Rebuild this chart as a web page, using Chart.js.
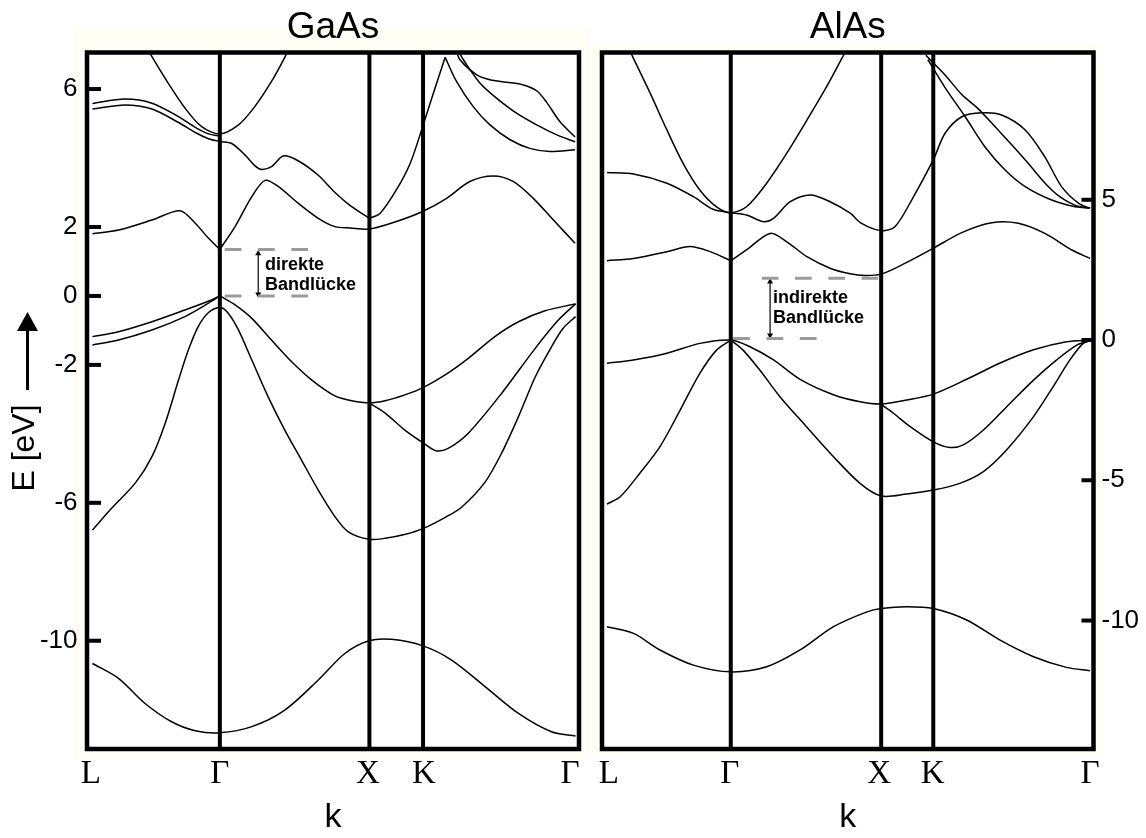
<!DOCTYPE html>
<html>
<head>
<meta charset="utf-8">
<script src="https://cdn.jsdelivr.net/npm/chart.js@4.4.0/dist/chart.umd.min.js"></script>
<style>
  body { margin: 0; background: #fff; }
  #page { position: relative; width: 1146px; height: 838px; overflow: hidden; }
  .cream { position: absolute; background: #fffef5; }
  canvas { position: absolute; top: 0; }
</style>
</head>
<body>
<div id="page">
  <div class="cream" style="left:73px;top:28px;width:517px;height:732px"></div>
  <div class="cream" style="left:592px;top:43px;width:508px;height:712px"></div>
  <canvas id="gaas" width="590" height="838" style="left:0"></canvas>
  <canvas id="alas" width="556" height="838" style="left:590px"></canvas>
</div>
<script>
// k runs along the path L - Γ - X - K - Γ, in percent of the panel width; E in eV
const kLabels = ["L", "Γ", "X", "K", "Γ"];

// ---------- GaAs ----------
const gaasTickPos = [0.8, 27.0, 57.1, 68.5, 98.2];
const gaasSymPoints = [27.0, 57.4, 68.3];
const gaasEnergyTicks = [6, 2, 0, -2, -6, -10];
const gaasRange = [-13.14, 7.06];

const gaasS = [[1.1,-10.66],[6.4,-11.09],[11.8,-11.82],[17.2,-12.35],[22.0,-12.61],[27.0,-12.67],[33.5,-12.49],[40.2,-12.01],[47.0,-11.14],[52.4,-10.37],[57.3,-10.0],[61.9,-9.96],[68.3,-10.15],[74.1,-10.56],[80.9,-11.33],[87.7,-12.11],[94.4,-12.64],[99.3,-12.76]];
const gaasV1 = [[1.1,-6.79],[5.0,-6.16],[9.8,-5.43],[13.2,-4.66],[15.9,-3.69],[18.6,-2.44],[20.6,-1.57],[22.6,-0.89],[24.7,-0.48],[27.0,-0.33],[28.7,-0.50],[30.8,-0.99],[33.5,-1.86],[36.8,-2.92],[40.2,-3.89],[43.6,-4.76],[47.0,-5.63],[50.4,-6.40],[53.1,-6.84],[57.4,-7.06],[60.6,-7.03],[64.5,-6.92],[68.4,-6.74],[73.1,-6.40],[76.2,-6.12],[80.9,-5.40],[84.3,-4.55],[87.7,-3.50],[91.1,-2.35],[94.4,-1.48],[96.7,-0.95],[99.3,-0.60]];
const gaasV2L = [[1.1,-1.18],[6.4,-1.04],[13.2,-0.75],[19.9,-0.41],[25.3,-0.12],[27.0,0]];
const gaasV2R = [[27.0,0],[30.1,-0.26],[33.5,-0.65],[37.5,-1.28],[41.6,-1.91],[45.7,-2.44],[50.4,-2.90],[53.8,-3.04],[57.4,-3.10],[60.6,-3.04],[64.6,-2.87],[68.4,-2.65],[72.8,-2.29],[77.5,-1.81],[82.9,-1.18],[87.7,-0.75],[93.1,-0.43],[99.3,-0.23]];
const gaasV3L = [[1.1,-1.42],[6.4,-1.28],[13.2,-0.99],[19.9,-0.60],[24.7,-0.21],[27.0,0]];
const gaasV3R = [[57.4,-3.11],[60.6,-3.40],[64.6,-3.89],[68.4,-4.27],[70.9,-4.49],[73.4,-4.42],[77.5,-3.98],[84.3,-2.82],[91.1,-1.52],[95.8,-0.70],[99.3,-0.23]];
const gaasC1L = [[1.1,1.80],[6.4,1.91],[13.2,2.20],[18.9,2.47],[22.0,2.11],[24.7,1.67],[27.0,1.35]];
const gaasC1R = [[27.0,1.35],[30.1,2.01],[33.5,2.88],[36.2,3.35],[38.9,3.17],[42.9,2.69],[47.0,2.25],[50.4,2.01],[53.5,1.97],[57.4,1.94],[62.9,2.16],[68.2,2.45],[73.1,2.83],[77.8,3.32],[82.6,3.48],[86.6,3.32],[90.7,2.83],[94.8,2.20],[99.2,1.53]];
const gaasC2 = [[1.1,5.58],[7.7,5.71],[13.2,5.59],[18.6,5.20],[22.0,4.89],[24.7,4.70],[27.0,4.64]];
const gaasC3a = [[1.1,5.42],[7.7,5.54],[13.2,5.42],[18.6,5.03],[22.0,4.74],[24.7,4.56],[27.0,4.48],[29.4,4.42],[32.1,4.09],[34.1,3.78],[35.5,3.67],[37.5,3.75],[39.9,4.06],[42.9,3.92],[47.0,3.50],[50.4,3.00],[53.5,2.62],[57.4,2.25]];
const gaasC3b = [[57.4,2.25],[59.6,2.40],[62.9,3.08],[65.7,3.85],[68.2,4.90],[70.4,5.88],[72.8,6.92]];
const gaasC3c = [[72.8,6.92],[75.1,6.22],[78.5,5.49],[81.9,4.96],[86.0,4.53],[90.0,4.28],[94.1,4.19],[99.2,4.24]];
const gaasC4 = [[12.2,7.2],[13.2,6.94],[16.5,6.17],[19.9,5.45],[23.3,4.91],[27.0,4.70],[30.8,4.96],[34.1,5.49],[37.5,6.22],[40.2,6.92],[41.1,7.2]];
const gaasC5 = [[75.0,7.15],[75.8,6.85],[79.2,6.41],[81.9,6.27],[85.3,6.20],[88.7,6.12],[91.4,5.95],[93.4,5.62],[96.1,5.06],[99.2,4.61]];
const gaasC6 = [[75.3,7.15],[76.5,6.85],[79.9,6.17],[83.3,5.73],[87.3,5.30],[91.4,4.96],[95.5,4.67],[99.2,4.47]];

// ---------- AlAs ----------
const alasTickPos = [1.4, 26.0, 56.4, 67.3, 99.3];
const alasSymPoints = [26.2, 56.8, 67.4];
const alasEnergyTicks = [5, 0, -5, -10];
const alasRange = [-14.58, 10.25];

const alasS = [[1.0,-10.22],[6.4,-10.46],[11.8,-11.05],[18.6,-11.59],[26.2,-11.83],[33.5,-11.65],[40.3,-11.05],[47.1,-10.22],[53.9,-9.69],[56.8,-9.57],[62.0,-9.51],[67.4,-9.57],[74.2,-9.98],[81.0,-10.70],[87.8,-11.29],[94.5,-11.67],[99.3,-11.79]];
const alasV1L = [[1.0,-5.85],[3.7,-5.59],[7.7,-4.75],[11.8,-3.80],[15.9,-2.50],[19.9,-1.19],[23.3,-0.36],[26.2,0]];
const alasV1R = [[26.2,0],[28.7,-0.36],[32.1,-1.07],[36.2,-2.02],[41.6,-3.09],[47.1,-4.16],[52.5,-5.11],[56.8,-5.56],[62.0,-5.49],[67.4,-5.35],[72.8,-5.11],[77.6,-4.69],[82.3,-3.92],[87.8,-2.73],[91.8,-1.66],[95.2,-0.71],[97.9,-0.12],[99.6,0]];
const alasV2 = [[1.0,-0.83],[6.4,-0.71],[13.2,-0.47],[19.9,-0.12],[26.2,0],[30.1,-0.24],[34.9,-0.71],[40.3,-1.40],[47.1,-1.95],[52.5,-2.20],[56.8,-2.28],[62.0,-2.14],[67.4,-1.93],[74.2,-1.40],[81.0,-0.82],[87.8,-0.35],[94.5,-0.06],[99.6,0]];
const alasV3 = [[56.8,-2.30],[59.3,-2.61],[62.7,-3.09],[67.4,-3.63],[70.8,-3.83],[73.5,-3.74],[77.6,-3.21],[83.0,-2.26],[87.8,-1.43],[92.5,-0.71],[96.6,-0.18],[99.6,0]];
const alasC1L = [[1.0,2.83],[6.4,2.91],[13.2,3.15],[17.9,3.33],[22.0,3.15],[26.2,2.83]];
const alasC1R = [[26.2,2.83],[29.4,3.21],[34.2,3.80],[37.6,3.50],[41.7,2.97],[46.4,2.56],[50.5,2.36],[53.5,2.30],[56.8,2.35],[61.6,2.73],[67.4,3.27],[73.2,3.83],[79.3,4.18],[84.7,4.16],[90.1,3.80],[95.6,3.21],[99.3,2.91]];
const alasC2 = [[1.0,5.97],[6.4,5.92],[13.2,5.59],[18.6,5.11],[22.6,4.66],[26.2,4.54],[29.4,4.46],[32.8,4.22],[34.9,4.34],[38.3,4.93],[42.4,5.17],[46.4,4.93],[50.5,4.52],[52.8,4.16],[56.8,3.90],[59.6,4.04],[63.0,4.99],[67.4,6.42],[69.8,7.37],[73.2,7.96],[77.3,8.10],[81.3,8.02],[86.1,7.49],[90.1,6.53],[93.5,5.47],[97.0,4.87],[99.3,4.70]];
const alasC3 = [[5.7,10.3],[6.4,10.04],[9.8,8.80],[13.2,7.49],[16.5,6.30],[19.9,5.35],[23.3,4.75],[26.2,4.54],[29.4,4.75],[33.5,5.59],[37.6,6.66],[41.7,7.84],[45.7,9.03],[48.8,10.04],[49.6,10.3]];
const alasC4 = [[65.9,10.15],[69.8,9.45],[73.2,8.75],[76.5,8.25],[80.0,7.6],[83.4,6.95],[86.7,6.3],[90.1,5.6],[93.2,5.1],[96.3,4.8],[99.3,4.7]];
const alasC5 = [[66.3,10.0],[69.8,9.0],[73.9,7.96],[77.9,6.89],[82.0,6.06],[86.1,5.47],[91.5,4.99],[96.3,4.75],[99.3,4.70]];

// band gap markers: dashed levels, double arrow, label
const gaasGap = { topE: 1.35, topK: [28.0, 45.0], botE: 0, botK: [28.0, 45.0], arrowK: 34.8, arrowE: [1.23, 0.05],
                  noteK: 36.2, noteE: [0.75, 0.17], note: ["direkte", "Bandlücke"] };
const alasGap = { topE: 2.2, topK: [32.5, 56.2], botE: 0.05, botK: [26.7, 43.7], arrowK: 34.2, arrowE: [2.08, 0.17],
                  noteK: 34.8, noteE: [1.32, 0.59], note: ["indirekte", "Bandlücke"] };

const SANS = "'Liberation Sans', Arial, sans-serif";
const SERIF = "'Liberation Serif', 'Times New Roman', serif";

function bandSet(points) {
  return { data: points, borderColor: "#000", borderWidth: 1.5, pointRadius: 0, fill: false, tension: 0.3 };
}

function plainSet(points, extra) {
  return Object.assign({ data: points, borderColor: "#000", pointRadius: 0, fill: false, tension: 0 }, extra);
}

function buildDatasets(bands, sym, range, gap) {
  const sets = bands.map(bandSet);
  sym.forEach(k => sets.push(plainSet([[k, range[0] - 1], [k, range[1] + 1]], { borderWidth: 4 })));
  const dash = { borderColor: "#9b9b9b", borderWidth: 3, borderDash: [16.7, 16.6] };
  sets.push(plainSet([[gap.topK[0], gap.topE], [gap.topK[1], gap.topE]], dash));
  sets.push(plainSet([[gap.botK[0], gap.botE], [gap.botK[1], gap.botE]], dash));
  sets.push(plainSet([[gap.arrowK, gap.arrowE[0]], [gap.arrowK, gap.arrowE[1]]], {
    borderWidth: 1.2, pointRadius: 3.5, pointStyle: "triangle", pointRotation: [0, 180],
    pointBackgroundColor: "#000", pointBorderWidth: 0
  }));
  return sets;
}

function framePlugin(name, ticks, side, gap) {
  return {
    id: "frame_" + name,
    beforeDraw(chart) {
      const { ctx, chartArea: a } = chart;
      ctx.save();
      ctx.fillStyle = "#fff";
      ctx.fillRect(a.left, a.top, a.right - a.left, a.bottom - a.top);
      ctx.restore();
    },
    afterDatasetsDraw(chart) {
      const { ctx, chartArea: a, scales } = chart;
      ctx.save();
      ctx.strokeStyle = "#000";
      ctx.lineWidth = 4.5;
      ctx.strokeRect(a.left, a.top, a.right - a.left, a.bottom - a.top);
      ctx.fillStyle = "#000";
      ticks.forEach(v => {
        const y = scales.y.getPixelForValue(v);
        if (side === "left") ctx.fillRect(a.left, y - 2, 14, 4);
        else ctx.fillRect(a.right - 12, y - 2, 12, 4);
      });
      ctx.font = "bold 18px " + SANS;
      ctx.textAlign = "left";
      ctx.textBaseline = "alphabetic";
      gap.note.forEach((t, i) => {
        ctx.fillText(t, scales.x.getPixelForValue(gap.noteK), scales.y.getPixelForValue(gap.noteE[i]));
      });
      ctx.restore();
    }
  };
}

// rotated "E [eV]" with the upward arrow next to the GaAs panel
const energyTitle = {
  id: "energyTitle",
  afterDraw(chart) {
    const ctx = chart.ctx;
    ctx.save();
    ctx.translate(25, 448);
    ctx.rotate(-Math.PI / 2);
    ctx.font = "32px " + SANS;
    ctx.fillStyle = "#000";
    ctx.textAlign = "center";
    ctx.textBaseline = "middle";
    ctx.fillText("E [eV]", 0, 0);
    ctx.restore();
    ctx.save();
    ctx.strokeStyle = "#000";
    ctx.lineWidth = 3;
    ctx.beginPath();
    ctx.moveTo(27.5, 390);
    ctx.lineTo(27.5, 325);
    ctx.stroke();
    ctx.fillStyle = "#000";
    ctx.beginPath();
    ctx.moveTo(27.5, 312);
    ctx.lineTo(17, 331);
    ctx.lineTo(38, 331);
    ctx.closePath();
    ctx.fill();
    ctx.restore();
  }
};

function makeChart(id, opt) {
  const yScale = {
    type: "linear", position: opt.side, min: opt.range[0], max: opt.range[1], bounds: "data",
    afterBuildTicks: s => { s.ticks = opt.energyTicks.map(v => ({ value: v })); },
    afterFit: s => { s.width = opt.axisWidth; },
    grid: { display: false, drawTicks: false },
    border: { display: false },
    ticks: { padding: opt.tickPad, color: "#000", font: { family: SANS, size: 26 }, callback: v => String(v) }
  };
  const xScale = {
    type: "linear", min: 0, max: 100, bounds: "data",
    afterBuildTicks: s => { s.ticks = opt.tickPos.map(v => ({ value: v })); },
    afterFit: s => { s.height = 89; },
    grid: { display: false, drawTicks: false },
    border: { display: false },
    ticks: { autoSkip: false, maxRotation: 0, padding: 6, color: "#000",
             font: { family: SERIF, size: 33 }, callback: (v, i) => kLabels[i] },
    title: { display: true, text: "k", color: "#000", font: { family: SANS, size: 34 }, padding: 0 }
  };
  return new Chart(document.getElementById(id), {
    type: "line",
    data: { datasets: opt.datasets },
    options: {
      responsive: false,
      animation: false,
      devicePixelRatio: 1,
      events: [],
      layout: { padding: opt.padding },
      scales: { x: xScale, y: yScale },
      plugins: {
        legend: { display: false },
        tooltip: { enabled: false },
        title: { display: true, text: opt.title, fullSize: false, color: "#000",
                 font: { family: SANS, size: 37, weight: "normal" }, padding: { top: 5.3, bottom: 2.8 } }
      }
    },
    plugins: opt.plugins
  });
}

makeChart("gaas", {
  title: "GaAs", side: "left", axisWidth: 87, tickPad: 9.5,
  range: gaasRange, energyTicks: gaasEnergyTicks, tickPos: gaasTickPos,
  padding: { left: 0, right: 11, top: 0, bottom: 0 },
  datasets: buildDatasets([gaasS, gaasV1, gaasV2L, gaasV2R, gaasV3L, gaasV3R, gaasC1L, gaasC1R, gaasC2,
                           gaasC3a, gaasC3b, gaasC3c, gaasC4, gaasC5, gaasC6], gaasSymPoints, gaasRange, gaasGap),
  plugins: [framePlugin("gaas", gaasEnergyTicks, "left", gaasGap), energyTitle]
});

makeChart("alas", {
  title: "AlAs", side: "right", axisWidth: 52.5, tickPad: 8,
  range: alasRange, energyTicks: alasEnergyTicks, tickPos: alasTickPos,
  padding: { left: 12, right: 0, top: 0, bottom: 0 },
  datasets: buildDatasets([alasS, alasV1L, alasV1R, alasV2, alasV3, alasC1L, alasC1R, alasC2, alasC3,
                           alasC4, alasC5], alasSymPoints, alasRange, alasGap),
  plugins: [framePlugin("alas", alasEnergyTicks, "right", alasGap)]
});
</script>
</body>
</html>
